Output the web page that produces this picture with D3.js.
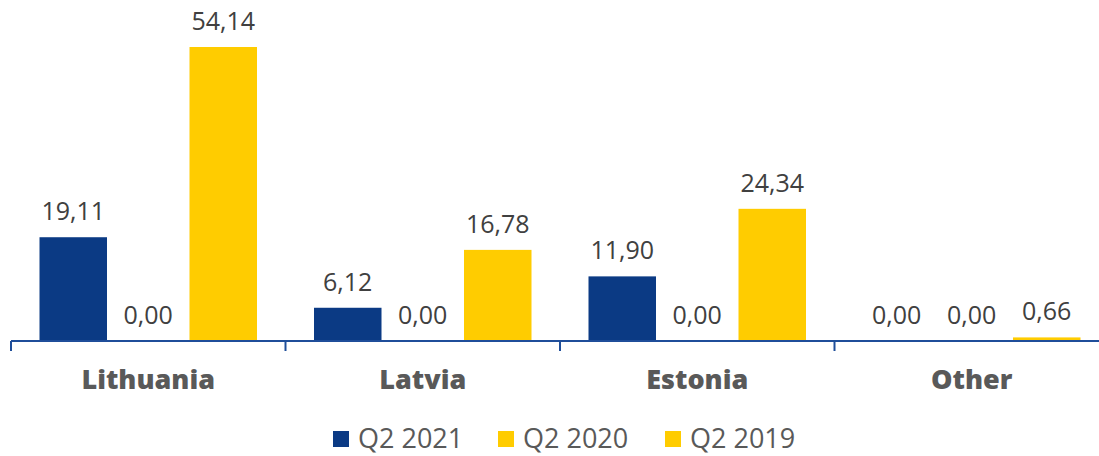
<!DOCTYPE html>
<html>
<head>
<meta charset="utf-8">
<script src="https://cdn.jsdelivr.net/npm/d3@7"></script>
<style>
  body { margin: 0; background: #fff; }
  svg { display: block; }
  .value { font-family: 'Open Sans', 'Noto Sans', sans-serif; font-size: 25px; fill: #404040; }
  .cat { font-family: 'Open Sans', 'Noto Sans', sans-serif; font-size: 27px; font-weight: 800; fill: #595959; }
  .legend text { font-family: 'Open Sans', 'Noto Sans', sans-serif; font-size: 27px; fill: #595959; }
</style>
</head>
<body>
<div id="chart"></div>
<script>
'use strict'

// data
const categories = ['Lithuania', 'Latvia', 'Estonia', 'Other']
const seriesNames = ['Q2 2021', 'Q2 2020', 'Q2 2019']
const q2021 = [19.11, 6.12, 11.90, 0.00]
const q2020 = [0.00, 0.00, 0.00, 0.00]
const q2019 = [54.14, 16.78, 24.34, 0.66]
const colors = ['#0b3a84', '#ffcc00', '#ffcc00']

const width = 1099
const height = 456
const baseY = 341

const svg = d3.select('#chart')
  .append('svg')
  .attr('width', width)
  .attr('height', height)

const x = d3.scaleBand()
  .domain(categories)
  .range([11, 1109])

const xInner = d3.scaleBand()
  .domain(seriesNames)
  .range([0, x.bandwidth()])
  .paddingInner(0.1)
  .paddingOuter(0.38)

const y = d3.scaleLinear()
  .domain([0, 54.14])
  .range([baseY, 47])

const series = [q2021, q2020, q2019]
const rows = []
series.forEach((vals, s) => {
  vals.forEach((v, i) => {
    rows.push({ cat: categories[i], name: seriesNames[s], value: v, color: colors[s] })
  })
})

const fmt = v => v.toFixed(2).replace('.', ',')

svg.selectAll('rect.bar')
  .data(rows)
  .enter()
  .append('rect')
  .attr('class', 'bar')
  .attr('x', d => x(d.cat) + xInner(d.name))
  .attr('width', xInner.bandwidth())
  .attr('y', d => y(d.value))
  .attr('height', d => baseY - y(d.value))
  .attr('fill', d => d.color)

svg.selectAll('text.value')
  .data(rows)
  .enter()
  .append('text')
  .attr('class', 'value')
  .attr('text-anchor', 'middle')
  .attr('x', d => x(d.cat) + xInner(d.name) + xInner.bandwidth() / 2)
  .attr('y', d => y(d.value) - 17)
  .text(d => fmt(d.value))

// axis
const axis = svg.append('g')
  .attr('transform', `translate(0,${baseY})`)
axis.append('line')
  .attr('x1', x.range()[0])
  .attr('x2', x.range()[1])
  .attr('stroke', '#1f4e9a')
  .attr('stroke-width', 2)
axis.selectAll('line.tick')
  .data(categories.concat(['end']))
  .enter()
  .append('line')
  .attr('class', 'tick')
  .attr('x1', (d, i) => x.range()[0] + x.step() * i)
  .attr('x2', (d, i) => x.range()[0] + x.step() * i)
  .attr('y1', 0)
  .attr('y2', 10)
  .attr('stroke', '#1f4e9a')
  .attr('stroke-width', 2)

svg.selectAll('text.cat')
  .data(categories)
  .enter()
  .append('text')
  .attr('class', 'cat')
  .attr('text-anchor', 'middle')
  .attr('x', d => x(d) + x.bandwidth() / 2)
  .attr('y', 389)
  .text(d => d)

// legend
const legendX = [333, 498, 665]
const legend = svg.append('g').attr('class', 'legend')
const items = legend.selectAll('g')
  .data(seriesNames)
  .enter()
  .append('g')
  .attr('transform', (d, i) => `translate(${legendX[i]},431)`)
items.append('rect')
  .attr('width', 16)
  .attr('height', 16)
  .attr('fill', (d, i) => colors[i])
items.append('text')
  .attr('x', 25)
  .attr('y', 17)
  .text(d => d)
</script>
</body>
</html>
